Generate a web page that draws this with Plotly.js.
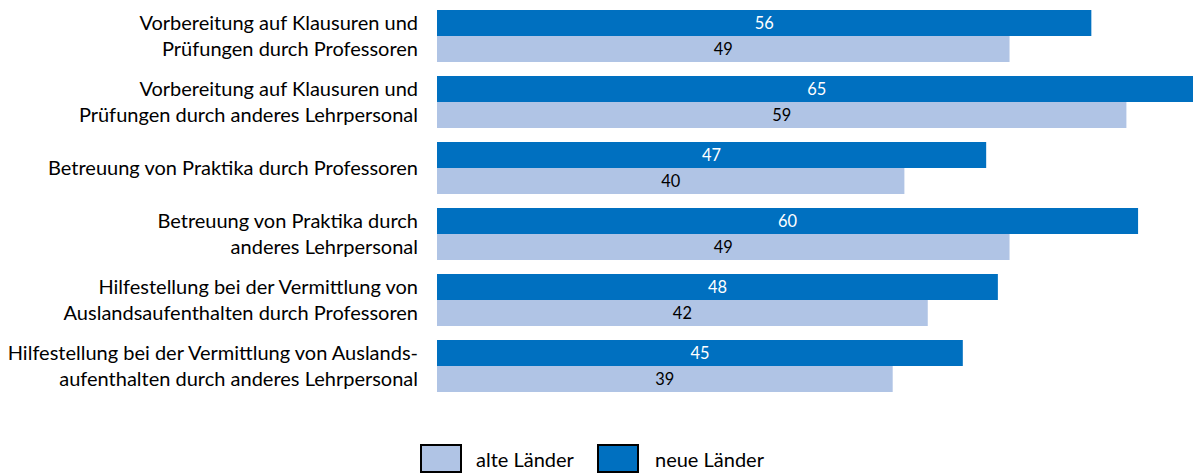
<!DOCTYPE html>
<html>
<head>
<meta charset="utf-8">
<script src="https://cdn.plot.ly/plotly-3.0.1.min.js"></script>
<style>
  html, body { margin: 0; padding: 0; background: #fff; }
  #chart { width: 1193px; height: 473px; }
</style>
</head>
<body>
<div id="chart"></div>
<script>
// categories (top to bottom)
const categories = [
    'Vorbereitung auf Klausuren und<br>Prüfungen durch Professoren',
    'Vorbereitung auf Klausuren und<br>Prüfungen durch anderes Lehrpersonal',
    'Betreuung von Praktika durch Professoren',
    'Betreuung von Praktika durch<br>anderes Lehrpersonal',
    'Hilfestellung bei der Vermittlung von<br>Auslandsaufenthalten durch Professoren',
    'Hilfestellung bei der Vermittlung von Auslands-<br>aufenthalten durch anderes Lehrpersonal'
];
const neueLaender = [56, 65, 47, 60, 48, 45];
const alteLaender = [49, 59, 40, 49, 42, 39];

const colorNeu = '#0070C0';
const colorAlt = '#B0C4E5';
const fontFam = 'Lato, "Open Sans", sans-serif';

// plot area in pixels, used to place the hand-made legend
const W = 1193, H = 473;
const margin = { l: 437, r: 0, t: 3, b: 74 };
const px = x => (x - margin.l) / (W - margin.l - margin.r);
const py = y => (H - margin.b - y) / (H - margin.t - margin.b);

const data = [
    {
        type: 'bar', orientation: 'h', name: 'neue Länder',
        y: categories, x: neueLaender,
        marker: { color: colorNeu },
        text: neueLaender.map(String), textposition: 'inside', insidetextanchor: 'middle',
        textangle: 0,
        textfont: { color: '#fff', size: 18, family: fontFam },
        hoverinfo: 'x+name'
    },
    {
        type: 'bar', orientation: 'h', name: 'alte Länder',
        y: categories, x: alteLaender,
        marker: { color: colorAlt },
        text: alteLaender.map(String), textposition: 'inside', insidetextanchor: 'middle',
        textangle: 0,
        textfont: { color: '#000', size: 18, family: fontFam },
        hoverinfo: 'x+name'
    }
];

// legend boxes drawn as shapes so they can be as big as in the original
const legendItems = [
    { name: 'alte Länder', color: colorAlt, box: [421, 461], textX: 474 },
    { name: 'neue Länder', color: colorNeu, box: [598, 638], textX: 653 }
];

const layout = {
    width: W, height: H,
    margin: margin,
    paper_bgcolor: '#fff', plot_bgcolor: '#fff',
    font: { family: fontFam, size: 20, color: '#000' },
    barmode: 'group', bargap: 0.21, bargroupgap: 0,
    showlegend: false,
    xaxis: { range: [0, 64.7], visible: false, fixedrange: true },
    yaxis: {
        autorange: 'reversed', showgrid: false, zeroline: false, showline: false,
        ticks: '', ticklabelstandoff: 18, tickfont: { size: 20, family: fontFam },
        fixedrange: true
    },
    shapes: legendItems.map(it => ({
        type: 'rect', xref: 'paper', yref: 'paper',
        x0: px(it.box[0]), x1: px(it.box[1]), y0: py(445), y1: py(472),
        fillcolor: it.color, line: { color: '#000', width: 2 }
    })),
    annotations: legendItems.map(it => ({
        xref: 'paper', yref: 'paper', x: px(it.textX), y: py(459),
        xanchor: 'left', yanchor: 'middle', showarrow: false,
        text: it.name, font: { size: 20, family: fontFam, color: '#000' }
    }))
};

Plotly.newPlot('chart', data, layout, { displayModeBar: false, staticPlot: true });
</script>
</body>
</html>
